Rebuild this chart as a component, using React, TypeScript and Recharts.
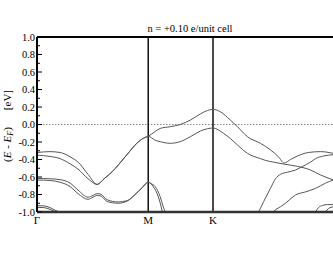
import { LineChart, Line, XAxis, YAxis, ReferenceLine } from 'recharts';

// k-path positions (Γ-M-K-Γ, units of 2π/a)
const kTicks = [0, 0.577, 0.913];
const kLabels = ['Γ', 'M', 'K'];
const kEnd = 1.577;

const energyTicks = [
    -1.0, -0.9, -0.8, -0.7, -0.6, -0.5, -0.4, -0.3, -0.2, -0.1, 0.0,
    0.1, 0.2, 0.3, 0.4, 0.5, 0.6, 0.7, 0.8, 0.9, 1.0,
];

const title = 'n = +0.10 e/unit cell';

// bands as [k, E - E_F] pairs
const bandA1 = [
    [0, -0.32], [0.068, -0.31], [0.12, -0.32], [0.172, -0.37], [0.213, -0.43], [0.265, -0.57],
    [0.312, -0.685], [0.348, -0.62], [0.39, -0.54], [0.457, -0.37], [0.525, -0.2], [0.546, -0.165],
    [0.577, -0.135], [0.613, -0.08], [0.639, -0.045], [0.691, -0.025], [0.743, 0.0], [0.795, 0.05],
    [0.847, 0.12], [0.884, 0.16], [0.913, 0.173], [0.951, 0.146], [1.003, 0.05], [1.04, -0.025],
    [1.092, -0.14], [1.159, -0.215], [1.211, -0.29], [1.253, -0.37], [1.282, -0.44], [1.315, -0.4],
    [1.351, -0.36], [1.408, -0.32], [1.471, -0.31], [1.538, -0.33], [1.577, -0.35],
];
const bandA2 = [
    [0, -0.35], [0.068, -0.365], [0.12, -0.39], [0.172, -0.45], [0.213, -0.51], [0.265, -0.62],
    [0.312, -0.685], [0.348, -0.62], [0.39, -0.54], [0.457, -0.37], [0.525, -0.2], [0.546, -0.165],
    [0.577, -0.135], [0.613, -0.18], [0.639, -0.196], [0.691, -0.215], [0.743, -0.196], [0.795, -0.14],
    [0.847, -0.075], [0.884, -0.048], [0.913, -0.04], [0.967, -0.1], [1.003, -0.16], [1.04, -0.234],
    [1.092, -0.33], [1.159, -0.39], [1.185, -0.41], [1.227, -0.43], [1.279, -0.452], [1.351, -0.478],
    [1.419, -0.52], [1.471, -0.577], [1.538, -0.634], [1.577, -0.66],
];
const bandB1 = [
    [0, -0.615], [0.068, -0.62], [0.12, -0.63], [0.172, -0.67], [0.213, -0.75], [0.265, -0.83],
    [0.291, -0.81], [0.312, -0.79], [0.333, -0.8], [0.364, -0.86], [0.421, -0.885], [0.468, -0.87],
    [0.509, -0.8], [0.546, -0.72], [0.577, -0.66], [0.587, -0.67], [0.603, -0.71], [0.629, -0.825],
    [0.644, -0.94], [0.65, -1.0], [0.66, -1.1],
];
const bandB2 = [
    [0, -0.634], [0.068, -0.64], [0.12, -0.66], [0.172, -0.71], [0.213, -0.79], [0.265, -0.855],
    [0.291, -0.83], [0.312, -0.81], [0.333, -0.82], [0.364, -0.88], [0.421, -0.9], [0.468, -0.875],
    [0.509, -0.8], [0.546, -0.72], [0.577, -0.66], [0.592, -0.675], [0.613, -0.71], [0.639, -0.825],
    [0.655, -0.94], [0.665, -1.0], [0.676, -1.1],
];
const bandC1 = [[0, -0.928], [0.036, -0.93], [0.068, -0.95], [0.094, -0.98], [0.114, -1.0], [0.13, -1.04]];
const bandC2 = [[0, -0.947], [0.036, -0.95], [0.068, -0.97], [0.088, -0.99], [0.104, -1.0], [0.12, -1.04]];
const bandD = [
    [1.133, -1.06], [1.149, -1.0], [1.185, -0.84], [1.211, -0.73], [1.237, -0.62], [1.263, -0.57],
    [1.299, -0.545], [1.341, -0.52], [1.377, -0.48], [1.419, -0.43], [1.445, -0.39], [1.486, -0.36],
    [1.538, -0.345], [1.577, -0.34],
];
const bandE = [
    [1.216, -1.05], [1.227, -1.0], [1.263, -0.94], [1.289, -0.9], [1.315, -0.85], [1.341, -0.806],
    [1.393, -0.77], [1.445, -0.73], [1.497, -0.67], [1.538, -0.634], [1.577, -0.61],
];
const bandF1 = [[1.434, -1.03], [1.445, -1.0], [1.46, -0.95], [1.481, -0.925], [1.507, -0.915], [1.538, -0.915], [1.577, -0.915]];
const bandF2 = [[1.486, -1.03], [1.497, -1.0], [1.512, -0.96], [1.538, -0.94], [1.577, -0.93]];

const bands = [bandA1, bandA2, bandB1, bandB2, bandC1, bandC2, bandD, bandE, bandF1, bandF2];

const FONT = '"Liberation Serif", "Times New Roman", Times, serif';
const PLOT_LEFT = 37;

const toPoints = (pairs: number[][]) => pairs.map(([k, e]) => ({ k, e }));

function EnergyTick({ x, y, payload }: any) {
    const v = payload.value as number;
    const major = Math.round(v * 10) % 2 === 0;
    return (
        <g>
            <line x1={PLOT_LEFT} x2={PLOT_LEFT + (major ? 5 : 3)} y1={y} y2={y} stroke="#000" strokeWidth={1} />
            {major && (
                <text x={x} y={y} dy="0.35em" textAnchor="end" fontSize={10.5} fontFamily={FONT} fill="#000">
                    {v.toFixed(1)}
                </text>
            )}
        </g>
    );
}

function EnergyTitle() {
    return (
        <text x={11} y={162} transform="rotate(-90, 11, 162)" fontSize={11} fontFamily={FONT} fill="#000">
            (<tspan fontStyle="italic">E</tspan> - <tspan fontStyle="italic">E</tspan>
            <tspan fontStyle="italic" fontSize={8} dy={2}>F</tspan>
            <tspan dy={-2}>)</tspan>
            <tspan dx={17}>[eV]</tspan>
        </text>
    );
}

export default function App() {
    return (
        <div style={{ position: 'fixed', left: 0, top: 0, width: 333, height: 258, overflow: 'hidden', background: '#fff' }}>
            <div
                style={{
                    position: 'absolute',
                    left: 90,
                    top: 23.5,
                    width: 200,
                    textAlign: 'center',
                    fontFamily: FONT,
                    fontSize: 10.5,
                    lineHeight: 1,
                    whiteSpace: 'nowrap',
                }}
            >
                {title}
            </div>
            <LineChart width={351} height={258} margin={{ top: 37, right: 10, left: 7, bottom: 16 }}>
                <XAxis
                    dataKey="k"
                    type="number"
                    domain={[0, kEnd]}
                    allowDataOverflow
                    ticks={kTicks}
                    interval={0}
                    tickFormatter={(v: number) => kLabels[kTicks.indexOf(v)] ?? ''}
                    tickLine={false}
                    tickSize={0}
                    tickMargin={4}
                    height={30}
                    tick={{ fontSize: 11, fill: '#000', fontFamily: FONT }}
                    axisLine={{ stroke: '#333', strokeWidth: 2.5 }}
                />
                <YAxis
                    type="number"
                    domain={[-1, 1]}
                    allowDataOverflow
                    ticks={energyTicks}
                    interval={0}
                    width={30}
                    tickLine={false}
                    tickSize={0}
                    tickMargin={2}
                    tick={<EnergyTick />}
                    axisLine={{ stroke: '#000', strokeWidth: 2 }}
                    label={<EnergyTitle />}
                />
                <ReferenceLine y={0} stroke="#888" strokeDasharray="1.5 1.5" strokeWidth={1} />
                <ReferenceLine y={1} stroke="#000" strokeWidth={2} />
                {kTicks.slice(1).map((k) => (
                    <ReferenceLine key={k} x={k} stroke="#111" strokeWidth={1.5} />
                ))}
                {bands.map((band, i) => (
                    <Line
                        key={i}
                        data={toPoints(band)}
                        dataKey="e"
                        type="monotone"
                        stroke="#555"
                        strokeWidth={1}
                        dot={false}
                        activeDot={false}
                        isAnimationActive={false}
                    />
                ))}
            </LineChart>
        </div>
    );
}
